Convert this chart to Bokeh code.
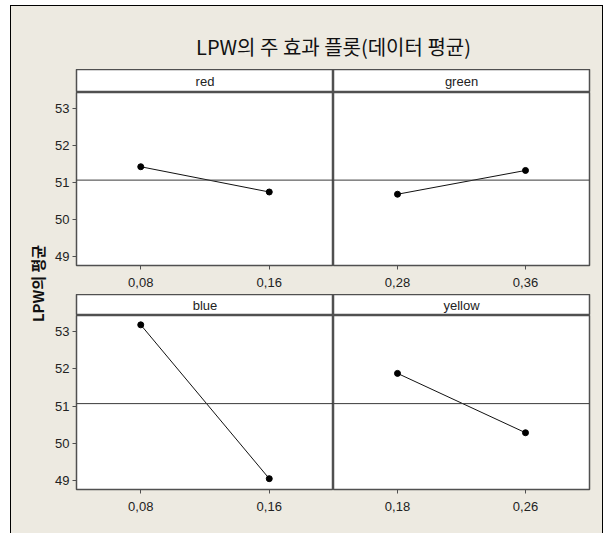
import math

from bokeh.plotting import figure
from bokeh.models import FactorRange, Range1d, Span, Label, GridPlot
from bokeh.embed import file_html
from bokeh.resources import INLINE

# Main-effects data: level labels and the mean LPW at each level
red_levels = ["0,08", "0,16"]
red_means = [51.43, 50.75]
green_levels = ["0,28", "0,36"]
green_means = [50.69, 51.33]
blue_levels = ["0,08", "0,16"]
blue_means = [53.18, 49.06]
yellow_levels = ["0,18", "0,26"]
yellow_means = [51.88, 50.29]
grand_mean = 51.07
y_ticks = [49, 50, 51, 52, 53]

TITLE = "LPW의 주 효과 플롯(데이터 평균)"
Y_LABEL = "LPW의 평균"

BEIGE = "#EDEAE1"
EDGE = "#505050"
TICK_FONT = "Liberation Sans"
KR_FONT = "Noto Sans CJK KR"

Y_LO, Y_HI = 48.77, 53.43
LABEL_W = 40
LEFT_W, RIGHT_W = 257, 256
LEFT_PAD, RIGHT_PAD = 25, 13


def base(fw, fh, left, right, bottom, **kw):
    p = figure(frame_width=fw, frame_height=fh, output_backend="svg",
               toolbar_location=None, **kw)
    p.min_border_left = left
    p.min_border_right = right
    p.min_border_top = 0
    p.min_border_bottom = bottom
    p.border_fill_color = BEIGE
    p.xgrid.visible = False
    p.ygrid.visible = False
    return p


def panel(levels, means, fw, fh, left, right, bottom, show_y):
    p = base(fw, fh, left, right, bottom,
             x_range=FactorRange(*levels), y_range=Range1d(Y_LO, Y_HI),
             y_axis_location="left" if show_y else None)
    p.background_fill_color = "white"
    p.outline_line_color = EDGE
    p.outline_line_width = 1.5
    p.add_layout(Span(location=grand_mean, dimension="width",
                      line_color="#3a3a3a", line_width=1))
    p.line(x=levels, y=means, line_color="#111111", line_width=1)
    p.scatter(x=levels, y=means, size=6, color="black")
    for ax in p.axis:
        ax.axis_line_color = EDGE
        ax.major_tick_line_color = EDGE
        ax.major_tick_in = 0
        ax.major_tick_out = 4
        ax.minor_tick_line_color = None
        ax.major_label_text_font = TICK_FONT
        ax.major_label_text_font_size = "13px"
        ax.major_label_text_color = "#222222"
    p.xaxis.major_label_standoff = 8
    if show_y:
        p.yaxis.ticker = y_ticks
        p.yaxis.major_label_standoff = 3
    return p


def strip(name, fw, fh, left, right):
    s = base(fw, fh, left, right, 0,
             x_range=Range1d(0, 1), y_range=Range1d(0, 1),
             x_axis_location=None, y_axis_location=None)
    s.background_fill_color = "white"
    s.outline_line_color = EDGE
    s.outline_line_width = 1.5
    s.add_layout(Label(x=0.5, y=0.5, text=name, text_align="center",
                       text_baseline="middle", text_font=TICK_FONT,
                       text_font_size="13px", text_color="#222222"))
    return s


def blank(fw, fh):
    b = base(fw, fh, 0, 0, 0, x_range=Range1d(0, fw), y_range=Range1d(0, fh),
             x_axis_location=None, y_axis_location=None)
    b.background_fill_color = BEIGE
    b.outline_line_color = None
    return b


TOTAL_W = LABEL_W + LEFT_PAD + LEFT_W + RIGHT_W + RIGHT_PAD
GRID_H = 23 + 202 + 21 + 218

title_fig = blank(TOTAL_W, 63)
title_fig.add_layout(Label(x=322, y=23, text=TITLE, text_align="center",
                           text_baseline="middle", text_font=KR_FONT,
                           text_font_size="20px", text_color="#111111"))

ylab_fig = blank(LABEL_W, GRID_H)
ylab_fig.add_layout(Label(x=26, y=250, text=Y_LABEL, angle=math.pi / 2,
                          text_align="center", text_baseline="middle",
                          text_font=KR_FONT, text_font_size="15px",
                          text_font_style="bold", text_color="#111111"))

s_red = strip("red", LEFT_W, 23, LEFT_PAD, 0)
s_green = strip("green", RIGHT_W, 23, 0, RIGHT_PAD)
p_red = panel(red_levels, red_means, LEFT_W, 173, LEFT_PAD, 0, 29, True)
p_green = panel(green_levels, green_means, RIGHT_W, 173, 0, RIGHT_PAD, 29, False)
s_blue = strip("blue", LEFT_W, 21, LEFT_PAD, 0)
s_yellow = strip("yellow", RIGHT_W, 21, 0, RIGHT_PAD)
p_blue = panel(blue_levels, blue_means, LEFT_W, 174, LEFT_PAD, 0, 44, True)
p_yellow = panel(yellow_levels, yellow_means, RIGHT_W, 174, 0, RIGHT_PAD, 44, False)

grid = GridPlot(
    children=[
        (title_fig, 0, 0, 1, 3),
        (ylab_fig, 1, 0, 4, 1),
        (s_red, 1, 1), (s_green, 1, 2),
        (p_red, 2, 1), (p_green, 2, 2),
        (s_blue, 3, 1), (s_yellow, 3, 2),
        (p_blue, 4, 1), (p_yellow, 4, 2),
    ],
    toolbar_location=None,
    spacing=0,
    margin=(5, 0, 0, 10),
    styles={
        "border-left": "1px solid #000000",
        "border-top": "1px solid #000000",
        "border-right": "1px solid #000000",
        "background-color": BEIGE,
    },
)

with open("out.html", "w") as f:
    f.write(file_html(grid, INLINE))
